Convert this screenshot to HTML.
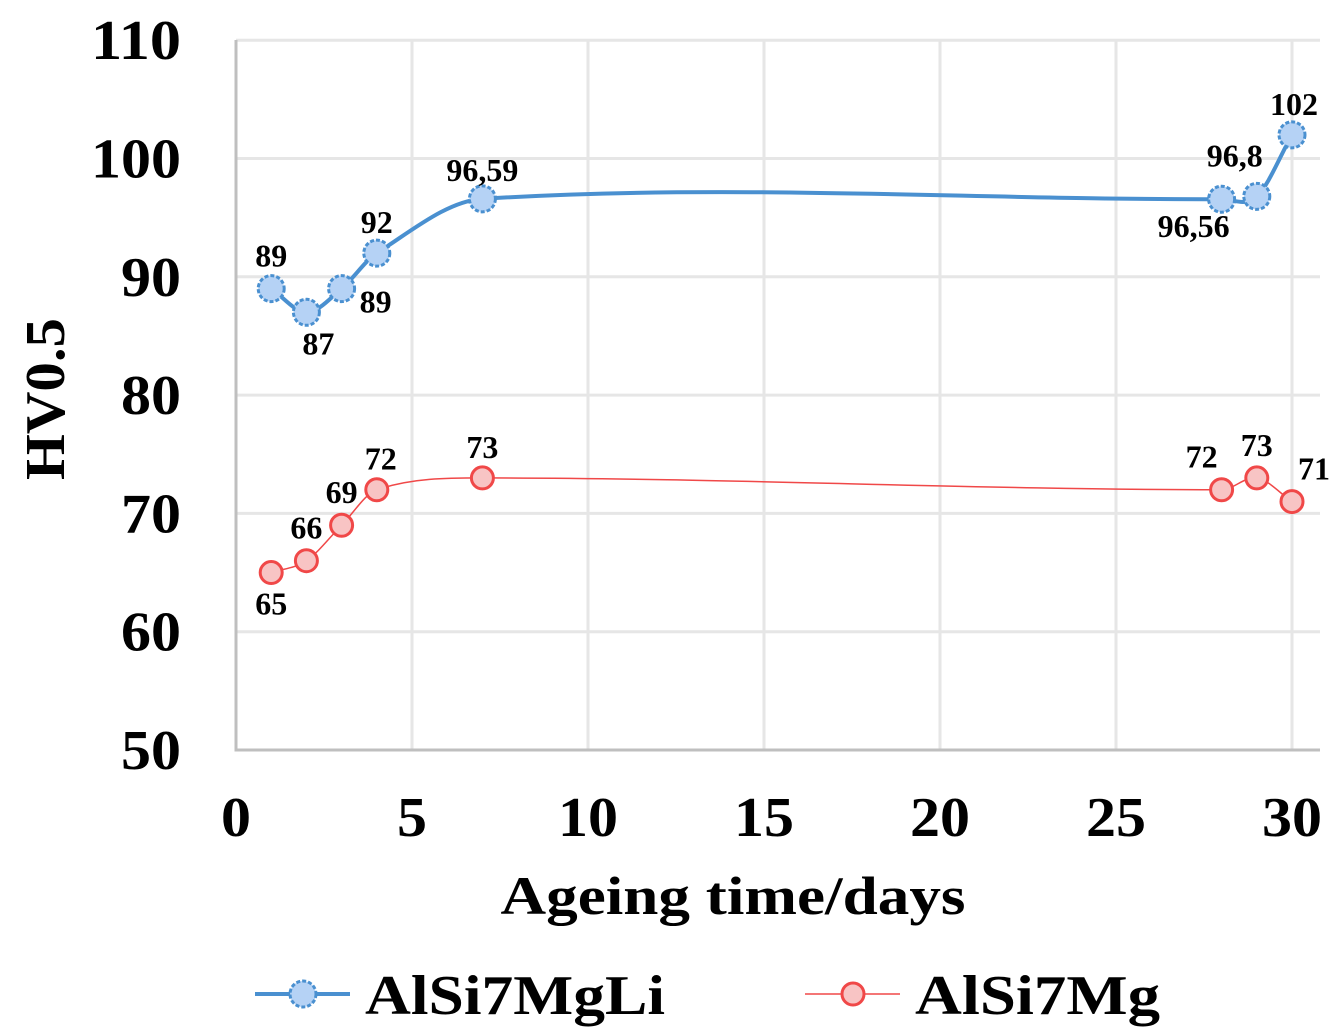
<!DOCTYPE html>
<html><head><meta charset="utf-8"><style>
body{margin:0;background:#fff}
svg text{font-family:"Liberation Serif",serif;font-weight:bold;fill:#000}
</style></head><body>
<svg id="c" width="1343" height="1028"></svg>
<script>
const xTicks=[0,5,10,15,20,25,30];
const yTicks=[50,60,70,80,90,100,110];
const days=[1,2,3,4,7,28,29,30];
const liVals=[89,87,89,92,96.59,96.56,96.8,102];
const liLabels=["89","87","89","92","96,59","96,56","96,8","102"];
const mgVals=[65,66,69,72,73,72,73,71];
const mgLabels=["65","66","69","72","73","72","73","71"];
const liOff=[[0,-22],[12,42],[34,24],[0,-20],[0,-18],[-28,38],[-22,-30],[2,-20]];
const mgOff=[[0,42],[0,-22],[0,-22],[4,-20],[0,-20],[-20,-22],[0,-22],[22,-22]];
const X=v=>236+v*35.2, Y=v=>750-(v-50)*11.83;
const NS="http://www.w3.org/2000/svg", s=document.getElementById('c');
function el(t,a,p){const e=document.createElementNS(NS,t);for(const k in a)e.setAttribute(k,a[k]);(p||s).appendChild(e);return e;}
xTicks.forEach(t=>{const l=el('line',{x1:X(t),x2:X(t),y1:40,y2:750,stroke:'#e6e6e6','stroke-width':3});

const s2=String(t);const tx=el('text',{x:X(t),y:836,'text-anchor':'middle','font-size':56,textLength:s2.length*30,lengthAdjust:'spacingAndGlyphs'});tx.textContent=s2;
});
yTicks.forEach(t=>{const l=el('line',{x1:236,x2:1320,y1:Y(t),y2:Y(t),stroke:'#e6e6e6','stroke-width':3});

const s2=String(t);const tx=el('text',{x:181,y:Y(t)+19,'text-anchor':'end','font-size':56,textLength:s2.length*30,lengthAdjust:'spacingAndGlyphs'});tx.textContent=s2;
});
const ax=el('path',{d:'M236 40V750H1320',fill:'none',stroke:'#bfbfbf','stroke-width':3});

function spline(xs,ys){const n=xs.length;const m=[];
for(let i=0;i<n;i++){const a=xs[i-1]!==undefined?i-1:i,b=xs[i+1]!==undefined?i+1:i;m.push((ys[b]-ys[a])/(xs[b]-xs[a]));}
let d='M'+X(xs[0])+' '+Y(ys[0]);
for(let i=0;i<n-1;i++){const h=xs[i+1]-xs[i];
d+='C'+X(xs[i]+h/3)+' '+Y(ys[i]+m[i]*h/3)+' '+X(xs[i+1]-h/3)+' '+Y(ys[i+1]-m[i+1]*h/3)+' '+X(xs[i+1])+' '+Y(ys[i+1]);}
return d;}
function series(vals,labels,off,col,fillc,w,r,name,dash){
const g=el('g',{});
el('path',{d:spline(days,vals),fill:'none',stroke:col,'stroke-width':w},g);
days.forEach((d,i)=>{const c=el('circle',{cx:X(d),cy:Y(vals[i]),r:r,fill:fillc,stroke:col,'stroke-width':3,'stroke-dasharray':dash},g);

const t=el('text',{x:X(d)+off[i][0],y:Y(vals[i])+off[i][1],'text-anchor':'middle','font-size':32},g);t.textContent=labels[i];
});}
series(liVals,liLabels,liOff,'#4a90d0','#b5d2f5',4,13,'alsi7mgli','4 2');
series(mgVals,mgLabels,mgOff,'#f04848','#f8c4c4',1.5,11,'alsi7mg','none');
const xt=el('text',{x:733,y:914,'text-anchor':'middle','font-size':54,textLength:465,lengthAdjust:'spacingAndGlyphs'});xt.textContent='Ageing time/days';

const yt=el('text',{x:0,y:0,'text-anchor':'middle','font-size':56,textLength:162,lengthAdjust:'spacingAndGlyphs',transform:'translate(64,399) rotate(-90)'});yt.textContent='HV0.5';

function leg(x,col,fillc,w,r,label,name,dash,len){const g=el('g',{});
el('line',{x1:x,x2:x+95,y1:994,y2:994,stroke:col,'stroke-width':w},g);
el('circle',{cx:x+48,cy:994,r:r,fill:fillc,stroke:col,'stroke-width':3,'stroke-dasharray':dash},g);
const t=el('text',{x:x+110,y:1014,'font-size':56,textLength:len,lengthAdjust:'spacingAndGlyphs'},g);t.textContent=label;}
leg(255,'#4a90d0','#b5d2f5',4,13,'AlSi7MgLi','alsi7mgli','4 2',300);
leg(805,'#f04848','#f8c4c4',1.5,11,'AlSi7Mg','alsi7mg','none',245);
</script>
</body></html>
